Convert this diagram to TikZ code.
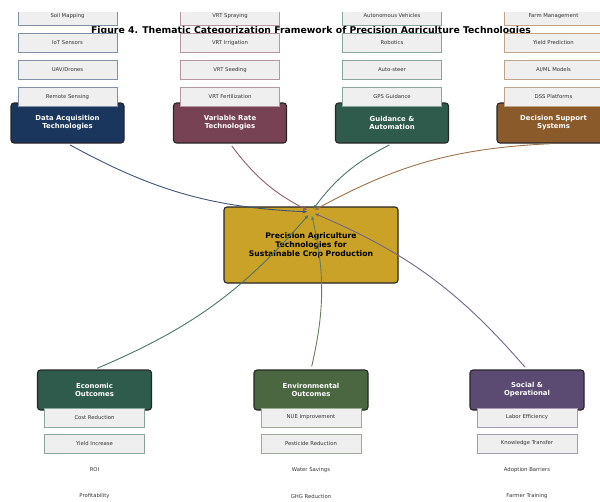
\documentclass[tikz,border=0pt]{standalone}
\usepackage{fontspec}
\setmainfont{DejaVu Sans}
\usetikzlibrary{arrows.meta}
\definecolor{cData}{HTML}{1B365D}
\definecolor{cVar}{HTML}{764254}
\definecolor{cGuid}{HTML}{2E5B4B}
\definecolor{cDec}{HTML}{8B5A2B}
\definecolor{cCen}{HTML}{C9A227}
\definecolor{cEco}{HTML}{2E5B4B}
\definecolor{cEnv}{HTML}{4A6741}
\definecolor{cSoc}{HTML}{5B4A72}
\definecolor{subfill}{HTML}{EFEFEF}
\tikzset{
  mainbox/.style={draw=black!85, line width=1.1pt, rounded corners=3pt, fill=#1,
    minimum width=113pt, minimum height=40pt, inner sep=0pt, text=white,
    font=\bfseries\fontsize{6.9}{8}\selectfont, align=center},
  subbox/.style={draw=#1!55, line width=0.8pt, fill=subfill,
    minimum width=99pt, minimum height=19pt, inner sep=0pt, text=black!80,
    font=\fontsize{5.3}{6}\selectfont},
  plain/.style={text=black!80, font=\fontsize{5.3}{6}\selectfont, inner sep=0pt},
  link/.style={draw=#1!85, line width=0.9pt, bend right=13,
    -{Triangle[length=4pt,width=3pt]}, shorten <=3pt, shorten >=4pt},
}
\begin{document}
\begin{tikzpicture}[x=1pt,y=-1pt]
\useasboundingbox (0,0) rectangle (600,501);
\node[font=\bfseries\fontsize{9.3}{11}\selectfont] (title) at (311,31)
  {Figure 4. Thematic Categorization Framework of Precision Agriculture Technologies};
\begin{scope}
\clip (0,12) rectangle (600,458);
% top categories
\node[mainbox=cData] (da) at (67.5,123) {Data Acquisition\\Technologies};
\node[mainbox=cVar] (vr) at (230,123) {Variable Rate\\Technologies};
\node[mainbox=cGuid] (ga) at (392,123) {Guidance \&\\Automation};
\node[mainbox=cDec] (ds) at (553.5,123) {Decision Support\\Systems};
% top sub-items
\node[subbox=cData] (da1) at (67.5,97) {Remote Sensing};
\node[subbox=cData] (da2) at (67.5,70) {UAV/Drones};
\node[subbox=cData] (da3) at (67.5,43) {IoT Sensors};
\node[subbox=cData] (da4) at (67.5,16) {Soil Mapping};
\node[subbox=cVar] (vr1) at (230,97) {VRT Fertilization};
\node[subbox=cVar] (vr2) at (230,70) {VRT Seeding};
\node[subbox=cVar] (vr3) at (230,43) {VRT Irrigation};
\node[subbox=cVar] (vr4) at (230,16) {VRT Spraying};
\node[subbox=cGuid] (ga1) at (392,97) {GPS Guidance};
\node[subbox=cGuid] (ga2) at (392,70) {Auto-steer};
\node[subbox=cGuid] (ga3) at (392,43) {Robotics};
\node[subbox=cGuid] (ga4) at (392,16) {Autonomous Vehicles};
\node[subbox=cDec] (ds1) at (553.5,97) {DSS Platforms};
\node[subbox=cDec] (ds2) at (553.5,70) {AI/ML Models};
\node[subbox=cDec] (ds3) at (553.5,43) {Yield Prediction};
\node[subbox=cDec] (ds4) at (553.5,16) {Farm Management};
% bottom categories
\node[mainbox=cEco, minimum width=114pt] (ec) at (94.5,390) {Economic\\Outcomes};
\node[mainbox=cEnv, minimum width=114pt] (en) at (311,390) {Environmental\\Outcomes};
\node[mainbox=cSoc, minimum width=114pt] (so) at (527,390) {Social \&\\Operational};
\node[subbox=cEco, minimum width=100pt] (ec1) at (94.5,417.5) {Cost Reduction};
\node[subbox=cEco, minimum width=100pt] (ec2) at (94.5,443.5) {Yield Increase};
\node[subbox=cEnv, minimum width=100pt] (en1) at (311,417.5) {NUE Improvement};
\node[subbox=cEnv, minimum width=100pt] (en2) at (311,443.5) {Pesticide Reduction};
\node[subbox=cSoc, minimum width=100pt] (so1) at (527,417.5) {Labor Efficiency};
\node[subbox=cSoc, minimum width=100pt] (so2) at (527,443.5) {Knowledge Transfer};
\end{scope}
\node[plain] (ec3) at (94.5,470) {ROI};
\node[plain] (ec4) at (94.5,496.5) {Profitability};
\node[plain] (en3) at (311,470) {Water Savings};
\node[plain] (en4) at (311,496.5) {GHG Reduction};
\node[plain] (so3) at (527,470) {Adoption Barriers};
\node[plain] (so4) at (527,496.5) {Farmer Training};
% central
\node[draw=black!85, line width=1.1pt, rounded corners=3pt, fill=cCen,
  minimum width=174pt, minimum height=76pt, inner sep=0pt, align=center,
  font=\bfseries\fontsize{7.7}{9}\selectfont] (core) at (311,245)
  {Precision Agriculture\\Technologies for\\Sustainable Crop Production};
\coordinate (hub) at (311,212);
% connectors
\draw[link=cData] (da.south) to (hub);
\draw[link=cVar] (vr.south) to (hub);
\draw[link=cGuid] (ga.south) to (hub);
\draw[link=cDec] (ds.south) to (hub);
\draw[link=cEco] (ec.north) to (hub);
\draw[link=cEnv] (en.north) to (hub);
\draw[link=cSoc] (so.north) to (hub);
\end{tikzpicture}
\end{document}
